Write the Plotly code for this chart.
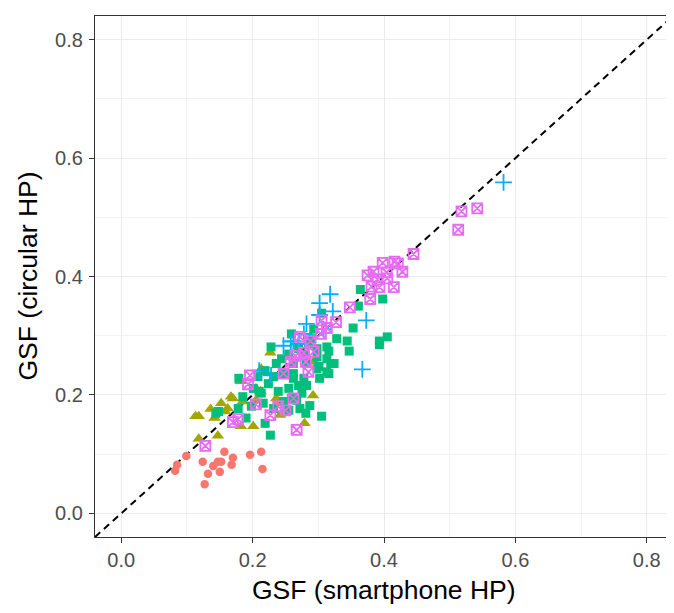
import plotly.graph_objects as go

# Group 1 (red circles)
red_x = [0.085, 0.082, 0.099, 0.124, 0.157, 0.170, 0.147, 0.152, 0.140, 0.132, 0.150, 0.168, 0.127, 0.196, 0.213, 0.215, 0.238]
red_y = [0.082, 0.072, 0.097, 0.087, 0.104, 0.094, 0.087, 0.087, 0.080, 0.067, 0.070, 0.082, 0.049, 0.099, 0.104, 0.075, 0.189]

# Group 2 (olive triangles)
olive_x = [0.113, 0.118, 0.142, 0.152, 0.158, 0.162, 0.167, 0.182, 0.185, 0.205, 0.212, 0.182, 0.201, 0.147, 0.118,
           0.227, 0.213, 0.205, 0.236, 0.242, 0.292, 0.279, 0.293, 0.170, 0.136]
olive_y = [0.164, 0.164, 0.161, 0.186, 0.172, 0.177, 0.197, 0.223, 0.189, 0.191, 0.206, 0.147, 0.147, 0.131, 0.126,
           0.271, 0.244, 0.211, 0.194, 0.166, 0.199, 0.152, 0.256, 0.194, 0.176]

# Group 3 (green squares)
green_x = [0.364, 0.361, 0.398, 0.353, 0.393, 0.405, 0.393, 0.347, 0.344, 0.328, 0.316, 0.305, 0.313, 0.324, 0.316,
           0.290, 0.298, 0.278, 0.262, 0.282, 0.228, 0.305, 0.227, 0.219, 0.247, 0.267, 0.281, 0.272, 0.179, 0.144,
           0.148, 0.190, 0.313, 0.319, 0.301, 0.236, 0.262, 0.270, 0.239, 0.247, 0.262, 0.282, 0.298, 0.313, 0.298,
           0.201, 0.213, 0.224, 0.232, 0.255, 0.275, 0.216, 0.232, 0.255, 0.198, 0.208, 0.219, 0.244, 0.255, 0.270,
           0.285, 0.185, 0.278, 0.293, 0.259, 0.259, 0.287, 0.302, 0.210, 0.178]
green_y = [0.378, 0.350, 0.362, 0.313, 0.291, 0.298, 0.285, 0.274, 0.291, 0.295, 0.274, 0.338, 0.261, 0.253, 0.236,
           0.295, 0.244, 0.228, 0.236, 0.216, 0.281, 0.164, 0.132, 0.152, 0.189, 0.191, 0.169, 0.177, 0.228, 0.169,
           0.172, 0.161, 0.239, 0.253, 0.248, 0.253, 0.228, 0.216, 0.206, 0.236, 0.253, 0.253, 0.264, 0.281, 0.278,
           0.211, 0.203, 0.219, 0.231, 0.211, 0.203, 0.186, 0.177, 0.174, 0.181, 0.231, 0.241, 0.261, 0.269, 0.278,
           0.286, 0.197, 0.269, 0.311, 0.194, 0.303, 0.182, 0.228, 0.206, 0.177]

# Group 4 (blue plus)
blue_x = [0.582, 0.367, 0.373, 0.318, 0.302, 0.322, 0.282, 0.302, 0.258, 0.247, 0.262, 0.210, 0.228, 0.278, 0.270, 0.308]
blue_y = [0.559, 0.243, 0.326, 0.370, 0.355, 0.341, 0.320, 0.335, 0.290, 0.283, 0.291, 0.241, 0.233, 0.303, 0.286, 0.311]

# Group 5 (magenta boxed x)
mag_x = [0.542, 0.518, 0.513, 0.445, 0.398, 0.416, 0.421, 0.428, 0.384, 0.375, 0.404, 0.390, 0.405, 0.415, 0.393,
         0.381, 0.379, 0.348, 0.305, 0.327, 0.313, 0.304, 0.288, 0.272, 0.293, 0.278, 0.265, 0.258, 0.285, 0.247,
         0.281, 0.196, 0.193, 0.262, 0.205, 0.250, 0.227, 0.178, 0.170, 0.267, 0.128, 0.239]
mag_y = [0.515, 0.510, 0.479, 0.438, 0.423, 0.425, 0.422, 0.408, 0.408, 0.402, 0.407, 0.395, 0.397, 0.382, 0.382,
         0.383, 0.362, 0.348, 0.326, 0.323, 0.313, 0.303, 0.291, 0.298, 0.273, 0.271, 0.266, 0.256, 0.239, 0.236,
         0.256, 0.233, 0.218, 0.194, 0.184, 0.174, 0.166, 0.159, 0.154, 0.141, 0.114, 0.181]

ticks = [0.0, 0.2, 0.4, 0.6, 0.8]
tick_labels = ["0.0", "0.2", "0.4", "0.6", "0.8"]
lims = [-0.04, 0.84]
FONT = "Liberation Sans, Arial, sans-serif"

fig = go.Figure()

fig.add_trace(go.Scatter(x=lims, y=lims, mode="lines",
                         line=dict(color="black", width=2, dash="7px,5px"),
                         hoverinfo="skip", showlegend=False))

fig.add_trace(go.Scatter(x=red_x, y=red_y, mode="markers",
                         marker=dict(symbol="circle", size=8.5, color="#F8766D", line=dict(width=0))))
fig.add_trace(go.Scatter(x=olive_x, y=olive_y, mode="markers",
                         marker=dict(symbol="triangle-up", size=11, color="#A3A500", line=dict(width=0))))
fig.add_trace(go.Scatter(x=green_x, y=green_y, mode="markers",
                         marker=dict(symbol="square", size=9, color="#00BF7D", line=dict(width=0))))
fig.add_trace(go.Scatter(x=blue_x, y=blue_y, mode="markers",
                         marker=dict(symbol="cross-thin", size=12, color="#00B0F6",
                                     line=dict(width=1.8, color="#00B0F6"))))
fig.add_trace(go.Scatter(x=mag_x, y=mag_y, mode="markers",
                         marker=dict(symbol="square-x-open", size=10, color="#E76BF3",
                                     line=dict(width=1.8, color="#E76BF3"))))

axis_common = dict(
    range=lims, tickvals=ticks, ticktext=tick_labels, automargin=False,
    showgrid=True, gridcolor="#EBEBEB", gridwidth=1.3,
    minor=dict(dtick=0.1, tick0=0, showgrid=True, gridcolor="#F2F2F2", gridwidth=0.7),
    zeroline=False, showline=True, linecolor="#333333", linewidth=1.3, mirror=True,
    ticks="outside", ticklen=5, tickwidth=1.2, tickcolor="#333333",
    tickfont=dict(family=FONT, size=20, color="#4D4D4D"),
)

fig.update_layout(
    width=674, height=613,
    margin=dict(l=87, r=9, t=8, b=84, autoexpand=False),
    paper_bgcolor="white", plot_bgcolor="white",
    showlegend=False,
    xaxis=dict(**axis_common),
    yaxis=dict(**axis_common, ticklabelstandoff=2),
    annotations=[
        dict(text="GSF (smartphone HP)", xref="paper", yref="paper", x=0.5, y=0,
             xanchor="center", yanchor="middle", yshift=-53, showarrow=False,
             font=dict(family=FONT, size=26.5, color="black")),
        dict(text="GSF (circular HP)", xref="paper", yref="paper", x=0, y=0.5,
             xanchor="center", yanchor="middle", xshift=-68, textangle=-90, showarrow=False,
             font=dict(family=FONT, size=26.5, color="black")),
    ],
)

fig.write_html("out.html")
